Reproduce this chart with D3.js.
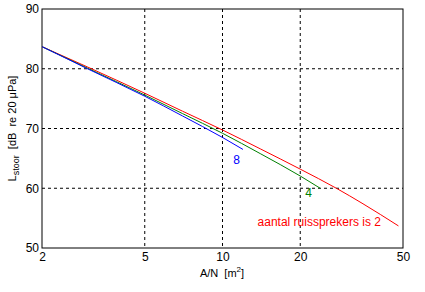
<!DOCTYPE html>
<html>
<head>
<meta charset="utf-8">
<script src="https://cdn.jsdelivr.net/npm/d3@7"></script>
<style>
  body { margin: 0; background: #fff; }
  text { font-family: Arial, "Liberation Sans", sans-serif; white-space: pre; }
</style>
</head>
<body>
<div id="chart"></div>
<script>
// frame size
const FRAME_WIDTH = 425;
const FRAME_HEIGHT = 292;
const MARGINS = {left: 42, right: 22, top: 9, bottom: 44};

const VIS_WIDTH = FRAME_WIDTH - MARGINS.left - MARGINS.right;
const VIS_HEIGHT = FRAME_HEIGHT - MARGINS.top - MARGINS.bottom;

// data
const X_TICKS = [2, 5, 10, 20, 50];
const Y_TICKS = [50, 60, 70, 80, 90];

const AN_2 = [2, 3, 5, 7, 10, 14, 20, 27.6, 35, 48];
const L_2 = [83.7, 80.3, 75.9, 72.9, 69.75, 66.6, 63.2, 60.0, 57.4, 53.7];

const AN_4 = [2, 3, 5, 7, 10, 14, 20, 23.9];
const L_4 = [83.7, 80.1, 75.6, 72.5, 69.2, 65.8, 62.05, 60.0];

const AN_8 = [2, 3, 5, 7, 10, 12];
const L_8 = [83.7, 80.0, 75.4, 72.1, 68.5, 66.5];

const SERIES = [
  {x: AN_2, y: L_2, color: "#ff0000"},
  {x: AN_4, y: L_4, color: "#008000"},
  {x: AN_8, y: L_8, color: "#0000ff"}
];

const FRAME = d3.select("#chart")
                .append("svg")
                  .attr("width", FRAME_WIDTH)
                  .attr("height", FRAME_HEIGHT);

// scales
const X_SCALE = d3.scaleLog()
                  .domain([2, 50])
                  .range([MARGINS.left, MARGINS.left + VIS_WIDTH]);

const Y_SCALE = d3.scaleLinear()
                  .domain([50, 90])
                  .range([MARGINS.top + VIS_HEIGHT, MARGINS.top]);

// grid lines (dashed)
FRAME.selectAll(".vgrid")
     .data(X_TICKS.slice(1, -1))
     .enter()
     .append("line")
       .attr("x1", (d) => X_SCALE(d))
       .attr("x2", (d) => X_SCALE(d))
       .attr("y1", MARGINS.top)
       .attr("y2", MARGINS.top + VIS_HEIGHT)
       .attr("stroke", "#000")
       .attr("stroke-dasharray", "3,3");

FRAME.selectAll(".hgrid")
     .data(Y_TICKS.slice(1, -1))
     .enter()
     .append("line")
       .attr("x1", MARGINS.left)
       .attr("x2", MARGINS.left + VIS_WIDTH)
       .attr("y1", (d) => Y_SCALE(d))
       .attr("y2", (d) => Y_SCALE(d))
       .attr("stroke", "#000")
       .attr("stroke-dasharray", "3,3");

// box
FRAME.append("rect")
     .attr("x", MARGINS.left)
     .attr("y", MARGINS.top)
     .attr("width", VIS_WIDTH)
     .attr("height", VIS_HEIGHT)
     .attr("fill", "none")
     .attr("stroke", "#000");

// axes
const xAxis = FRAME.append("g")
     .attr("transform", "translate(0," + (MARGINS.top + VIS_HEIGHT) + ")")
     .call(d3.axisBottom(X_SCALE).tickValues(X_TICKS).tickFormat(d3.format("d")).tickSize(0).tickPadding(4));
xAxis.select(".domain").remove();
xAxis.selectAll("text").attr("font-size", "12px").attr("fill", "#000").attr("font-family", "Arial, 'Liberation Sans', sans-serif");

const yAxis = FRAME.append("g")
     .attr("transform", "translate(" + MARGINS.left + ",0)")
     .call(d3.axisLeft(Y_SCALE).tickValues(Y_TICKS).tickSize(0).tickPadding(3));
yAxis.select(".domain").remove();
yAxis.selectAll("text").attr("font-size", "12px").attr("fill", "#000").attr("font-family", "Arial, 'Liberation Sans', sans-serif");

// lines
const line = d3.line()
               .curve(d3.curveMonotoneX)
               .x((d) => X_SCALE(d[0]))
               .y((d) => Y_SCALE(d[1]));

SERIES.forEach((s) => {
  FRAME.append("path")
       .datum(d3.zip(s.x, s.y))
       .attr("d", line)
       .attr("fill", "none")
       .attr("stroke", s.color)
       .attr("stroke-width", 1);
});

// series labels
FRAME.append("text")
     .attr("x", X_SCALE(11.0))
     .attr("y", Y_SCALE(64.1))
     .attr("fill", "#0000ff")
     .attr("font-size", "12px")
     .text("8");

FRAME.append("text")
     .attr("x", X_SCALE(20.9))
     .attr("y", Y_SCALE(58.5))
     .attr("fill", "#008000")
     .attr("font-size", "12px")
     .text("4");

FRAME.append("text")
     .attr("x", X_SCALE(23.7))
     .attr("y", Y_SCALE(53.7))
     .attr("text-anchor", "middle")
     .attr("fill", "#ff0000")
     .attr("font-size", "12px")
     .text("aantal ruissprekers is 2");

// axis titles
const xTitle = FRAME.append("text")
     .attr("x", 222)
     .attr("y", 277)
     .attr("text-anchor", "middle")
     .attr("font-size", "11px");
xTitle.append("tspan").text("A/N  [m");
xTitle.append("tspan").attr("font-size", "8px").attr("dy", -5).text("2");
xTitle.append("tspan").attr("dy", 5).text("]");

const yTitle = FRAME.append("text")
     .attr("transform", "translate(16," + (MARGINS.top + VIS_HEIGHT / 2) + ") rotate(-90)")
     .attr("text-anchor", "middle")
     .attr("font-size", "11px");
yTitle.append("tspan").text("L");
yTitle.append("tspan").attr("font-size", "9px").attr("dy", 3).text("stoor");
yTitle.append("tspan").attr("dy", -3).text("  [dB  re 20 μPa]");
</script>
</body>
</html>
